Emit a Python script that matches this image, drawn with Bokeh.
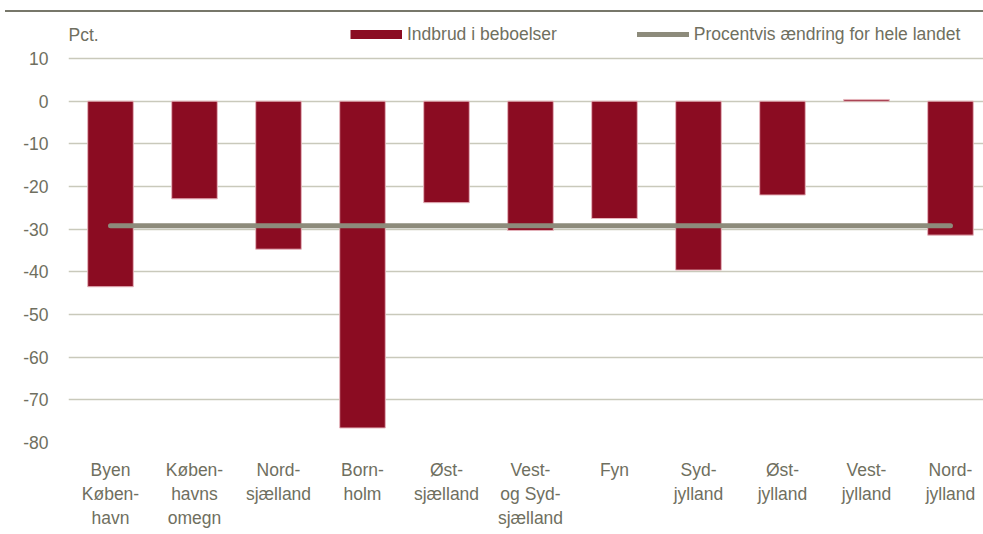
from bokeh.plotting import figure
from bokeh.models import (ColumnDataSource, Range1d, FixedTicker, Legend, LegendItem,
                          Label, Div)
from bokeh.layouts import column
from bokeh.embed import file_html
from bokeh.resources import INLINE

# ---- data ----
regions = ["Byen\nKøben-\nhavn", "Køben-\nhavns\nomegn", "Nord-\nsjælland", "Born-\nholm",
           "Øst-\nsjælland", "Vest-\nog Syd-\nsjælland", "Fyn", "Syd-\njylland",
           "Øst-\njylland", "Vest-\njylland", "Nord-\njylland"]
burglary = [-43.5, -22.9, -34.7, -76.6, -23.8, -30.3, -27.5, -39.6, -22.0, 0.4, -31.4]
national = -29.2
y_ticks = [10, 0, -10, -20, -30, -40, -50, -60, -70, -80]
y_tick_labels = ["10", "0", "-10", "-20", "-30", "-40", "-50", "-60", "-70", "-80"]

FONT = "Liberation Sans"
FS = "17.5px"
TXT = "#6f6f60"
RED = "#8b0c22"
GRAY = "#8d8b7b"

xs = list(range(len(regions)))
src = ColumnDataSource(dict(x=xs, top=burglary))

p = figure(width=983, height=522, output_backend="svg", toolbar_location=None,
           x_range=Range1d(-0.5, 10.393), y_range=Range1d(-80, 20.78),
           min_border_left=68, min_border_right=0, min_border_top=0, min_border_bottom=92)
p.outline_line_color = None
p.background_fill_color = "white"

bars = p.vbar(x="x", top="top", bottom=0, width=0.543, source=src,
              fill_color=RED, line_color="#e6b5bd", line_width=1)
nat = p.line(x=[xs[0], xs[-1]], y=[national, national], line_color=GRAY, line_width=5,
             line_cap="round")
# legend-only swatch (draws nothing in the plot)
red_swatch = p.line(x=[float("nan")], y=[float("nan")], line_color=RED, line_width=9)

# axes
p.xaxis.ticker = FixedTicker(ticks=xs)
p.xaxis.major_label_overrides = {i: lab for i, lab in enumerate(regions)}
p.yaxis.ticker = FixedTicker(ticks=y_ticks)
p.yaxis.major_label_overrides = {t: lab for t, lab in zip(y_ticks, y_tick_labels)}
for ax in (p.xaxis[0], p.yaxis[0]):
    ax.axis_line_color = None
    ax.major_tick_line_color = None
    ax.minor_tick_line_color = None
    ax.major_label_text_font = FONT
    ax.major_label_text_font_size = FS
    ax.major_label_text_color = TXT
p.xaxis.major_label_standoff = 11
p.yaxis.major_label_standoff = 14

p.xgrid.grid_line_color = None
p.ygrid.grid_line_color = "#c9c9bb"
p.ygrid.grid_line_width = 1.5

# unit label
p.add_layout(Label(x=-0.5, y=10, y_offset=23, text="Pct.", text_font=FONT,
                   text_font_size=FS, text_color=TXT, text_baseline="middle"))

legend = Legend(items=[LegendItem(label="Indbrud i beboelser", renderers=[red_swatch]),
                       LegendItem(label="Procentvis ændring for hele landet", renderers=[nat])],
                orientation="horizontal", location=(282, 396), glyph_width=52,
                glyph_height=24, label_standoff=5, spacing=80, padding=0, margin=0,
                border_line_color=None, background_fill_alpha=0,
                label_text_font=FONT, label_text_font_size=FS, label_text_color=TXT)
p.add_layout(legend, "center")

rule = Div(text="", width=978, height=2, margin=(10, 0, 0, 5),
           styles={"background-color": "#77776a"})

layout = column(rule, p, spacing=0)
open("out.html", "w").write(file_html(layout, INLINE))
